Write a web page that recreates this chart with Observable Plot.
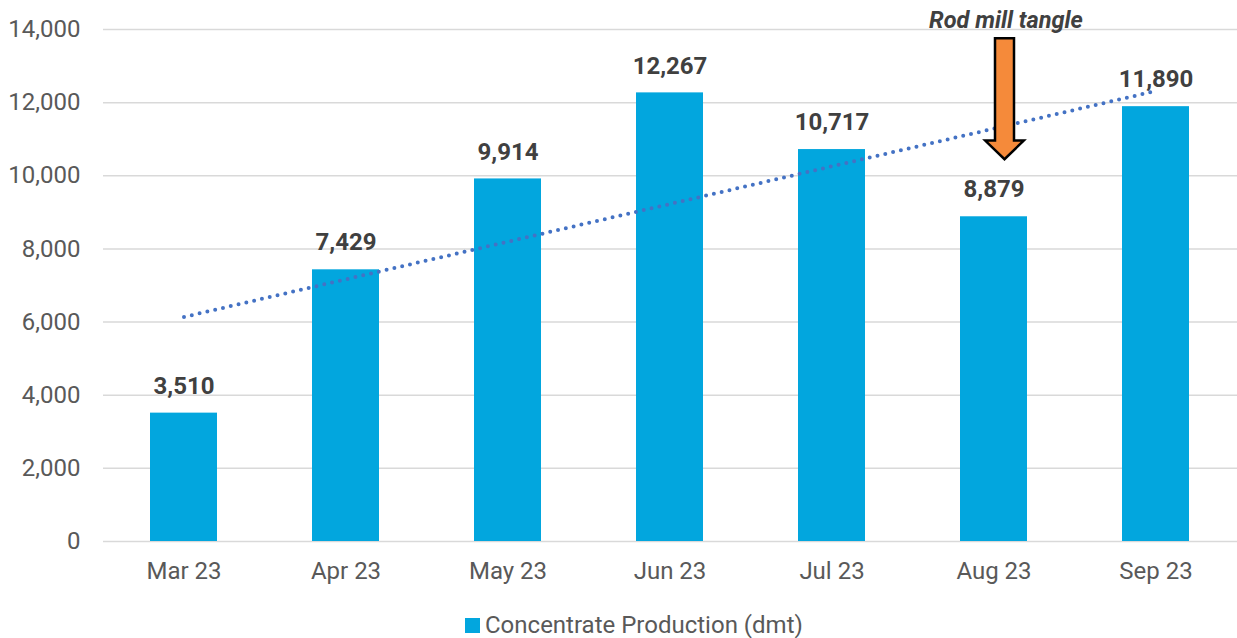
<!DOCTYPE html>
<html>
<head>
<meta charset="utf-8">
<script src="https://cdn.jsdelivr.net/npm/d3@7"></script>
<script src="https://cdn.jsdelivr.net/npm/@observablehq/plot@0.6"></script>
<style>
  html, body { margin: 0; padding: 0; background: #fff; }
  body { width: 1237px; height: 638px; overflow: hidden; font-family: Roboto, sans-serif; }
  #legend { position: absolute; left: 465px; top: 611px; display: flex; align-items: center; font-size: 24px; color: #595959; }
  #legend .sw { width: 15px; height: 15px; background: #02A6DE; margin-right: 5px; }
</style>
</head>
<body>
<div id="chart"></div>
<div id="legend"><span class="sw"></span><span>Concentrate Production (dmt)</span></div>
<script>
const months = ["Mar 23", "Apr 23", "May 23", "Jun 23", "Jul 23", "Aug 23", "Sep 23"];
const production = [3510, 7429, 9914, 12267, 10717, 8879, 11890];
const yTicks = [0, 2000, 4000, 6000, 8000, 10000, 12000, 14000];
const annotationMonth = "Aug 23";
const annotationText = "Rod mill tangle";
const arrowTop = 13750, arrowHeadStart = 10950, arrowTip = 10440;
const annotationTextY = 14050;

const data = months.map((m, i) => ({month: m, value: production[i], i}));

// linear least-squares trendline (Excel-style linear trendline)
const mx = d3.mean(data, d => d.i), my = d3.mean(production);
const slope = d3.sum(data, d => (d.i - mx) * (d.value - my)) / d3.sum(data, d => (d.i - mx) ** 2);
const intercept = my - slope * mx;
const trend = data.map(d => ({month: d.month, value: intercept + slope * d.i}));

const fmt = d3.format(",");

function arrowMark(index, scales) {
  const cx = scales.x(annotationMonth) + scales.x.bandwidth() / 2 + 11;
  const yT = scales.y(arrowTop), yH = scales.y(arrowHeadStart), yP = scales.y(arrowTip);
  const sw = 9.5, hw = 19.3;
  const p = `M${cx - sw},${yT} L${cx + sw},${yT} L${cx + sw},${yH} L${cx + hw},${yH} L${cx},${yP} L${cx - hw},${yH} L${cx - sw},${yH} Z`;
  const path = document.createElementNS("http://www.w3.org/2000/svg", "path");
  path.setAttribute("d", p);
  path.setAttribute("fill", "#F58A3A");
  path.setAttribute("stroke", "#000");
  path.setAttribute("stroke-width", "2.5");
  path.setAttribute("stroke-linejoin", "miter");
  return path;
}

const chart = Plot.plot({
  width: 1237,
  height: 595,
  marginLeft: 103,
  marginRight: 0,
  marginTop: 29,
  marginBottom: 54,
  style: {fontFamily: "Roboto, sans-serif", background: "#fff", overflow: "visible"},
  x: {domain: months, paddingInner: 0.586, paddingOuter: 0.293, label: null},
  y: {domain: [0, 14000], label: null},
  marks: [
    Plot.ruleY(yTicks, {stroke: "#d9d9d9", strokeWidth: 1.5}),
    Plot.barY(data, {x: "month", y: "value", fill: "#02A6DE"}),
    Plot.line(trend, {x: "month", y: "value", stroke: "#4472C4", strokeWidth: 4, strokeDasharray: "0 8", strokeLinecap: "round"}),
    Plot.text(data, {x: "month", y: "value", text: d => fmt(d.value), dy: -27, fontSize: 24, fontWeight: "bold", fill: "#404040"}),
    Plot.axisY({ticks: yTicks, tickFormat: fmt, tickSize: 0, tickPadding: 23, fontSize: 24, color: "#595959", label: null}),
    Plot.axisX({tickSize: 0, tickPadding: 20, fontSize: 24, color: "#595959", label: null}),
    arrowMark,
    Plot.text([annotationText], {x: () => annotationMonth, y: () => annotationTextY, text: d => d, dx: 12, lineAnchor: "bottom", fontSize: 23.5, fontWeight: "bold", fontStyle: "italic", fill: "#404040"})
  ]
});
document.getElementById("chart").appendChild(chart);
</script>
</body>
</html>
